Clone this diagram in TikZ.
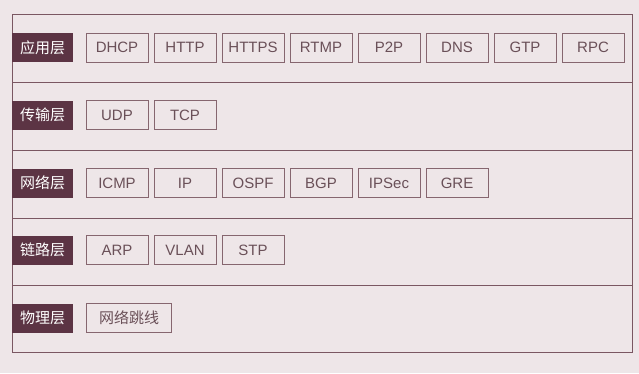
\documentclass[tikz,border=0pt]{standalone}
\usepackage{fontspec}
\setmainfont{Liberation Sans}
\newfontfamily\cjk{Noto Sans CJK SC}
\begin{document}
\definecolor{bgpink}{HTML}{EEE6E8}
\definecolor{frameline}{HTML}{7A5762}
\definecolor{layerfill}{HTML}{5C3444}
\definecolor{boxline}{HTML}{86666F}
\definecolor{boxtext}{HTML}{6A5058}
\begin{tikzpicture}[x=1pt,y=-1pt,
  layerbox/.style={fill=layerfill,draw=none,minimum width=61pt,minimum height=29pt,
    inner sep=0pt,text=white,font=\cjk\fontsize{15}{15}\selectfont,anchor=west},
  protobox/.style={draw=boxline,line width=1pt,minimum width=62pt,minimum height=29pt,
    inner sep=0pt,text=boxtext,font=\fontsize{15}{15}\selectfont},
  widebox/.style={protobox,minimum width=85pt,font=\cjk\fontsize{15}{15}\selectfont,anchor=west},
  rule/.style={draw=frameline,line width=1pt}]
% page
\fill[bgpink] (0,0) rectangle (639,373);
% outer frame and row separators
\draw[rule] (12,14) rectangle (632,352);
\foreach \y in {82,150,218,285} \draw[rule] (12,\y) -- (632,\y);
% layer labels
\node[layerbox] (app)  at (12,47.5) {应用层};
\node[layerbox] (trans) at (12,115) {传输层};
\node[layerbox] (net)  at (12,183) {网络层};
\node[layerbox] (link) at (12,250) {链路层};
\node[layerbox] (phys) at (12,318) {物理层};
% application layer protocols
\foreach \t [count=\i from 0] in {DHCP,HTTP,HTTPS,RTMP,P2P,DNS,GTP,RPC}
  \node[protobox] (a\i) at (117+68*\i,47.5) {\t};
% transport layer protocols
\foreach \t [count=\i from 0] in {UDP,TCP}
  \node[protobox] (t\i) at (117+68*\i,115) {\t};
% network layer protocols
\foreach \t [count=\i from 0] in {ICMP,IP,OSPF,BGP,IPSec,GRE}
  \node[protobox] (n\i) at (117+68*\i,183) {\t};
% link layer protocols
\foreach \t [count=\i from 0] in {ARP,VLAN,STP}
  \node[protobox] (l\i) at (117+68*\i,250) {\t};
% physical layer
\node[widebox] (p0) at (86,318) {网络跳线};
\end{tikzpicture}
\end{document}
